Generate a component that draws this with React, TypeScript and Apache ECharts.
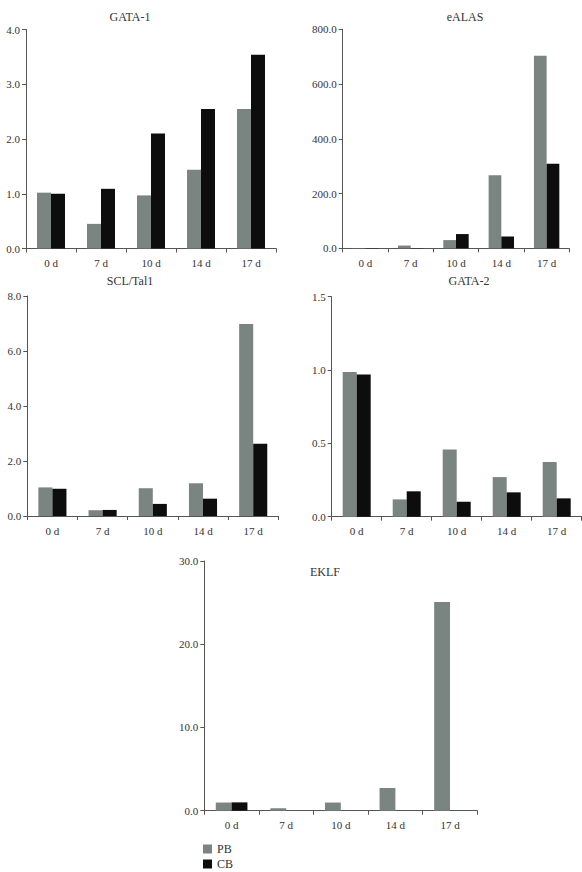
import React, { useEffect, useRef } from "react";
import * as echarts from "echarts";

const categories = ["0 d", "7 d", "10 d", "14 d", "17 d"];
const seriesNames = ["PB", "CB"];

const gata1PB = [1.02, 0.45, 0.97, 1.44, 2.55];
const gata1CB = [1.0, 1.09, 2.1, 2.55, 3.54];
const ealasPB = [1, 10, 30, 267, 703];
const ealasCB = [1, 1, 52, 43, 309];
const sclPB = [1.04, 0.21, 1.01, 1.19, 6.98];
const sclCB = [0.99, 0.22, 0.44, 0.63, 2.63];
const gata2PB = [0.986, 0.118, 0.459, 0.27, 0.373];
const gata2CB = [0.97, 0.173, 0.102, 0.166, 0.125];
const eklfPB = [0.98, 0.28, 0.98, 2.72, 25.07];
const eklfCB = [1.0, 0, 0, 0, 0];

const panelTitles = ["GATA-1", "eALAS", "SCL/Tal1", "GATA-2", "EKLF"];
const yMax = [4, 800, 8, 1.5, 30];
const yInterval = [1, 200, 2, 0.5, 10];
const pbData = [gata1PB, ealasPB, sclPB, gata2PB, eklfPB];
const cbData = [gata1CB, ealasCB, sclCB, gata2CB, eklfCB];

const FONT = "'Liberation Serif', 'DejaVu Serif', serif";
const PB_COLOR = "#7a8581";
const CB_COLOR = "#0d0d0d";

export default function App() {
  const ref = useRef<HTMLDivElement>(null);
  useEffect(() => {
    if (!ref.current) return;
    const chart = echarts.init(ref.current, undefined, { renderer: "svg" });
    const grids = [
      { left: 26, top: 29.5, width: 250, height: 219 },
      { left: 342.7, top: 29.3, width: 226.6, height: 219 },
      { left: 27.3, top: 296, width: 251, height: 220 },
      { left: 331.7, top: 296.7, width: 250, height: 220 },
      { left: 204.3, top: 561, width: 273, height: 249.7 },
    ];
    const titlePos = [
      [130, 17],
      [465, 17],
      [130, 281],
      [469, 281],
      [325, 572],
    ];
    const xAxes = grids.map((_, i) => ({
      type: "category",
      gridIndex: i,
      data: categories,
      boundaryGap: true,
      axisLine: { lineStyle: { color: "#555", width: 1 } },
      axisTick: { show: true, length: 4, lineStyle: { color: "#555" } },
      axisLabel: { fontFamily: FONT, fontSize: 11, color: "#333", margin: 9 },
      splitLine: { show: false },
    }));
    const yAxes = grids.map((_, i) => ({
      type: "value",
      gridIndex: i,
      min: 0,
      max: yMax[i],
      interval: yInterval[i],
      axisLine: { show: true, lineStyle: { color: "#555", width: 1 } },
      axisTick: { show: true, length: 4, lineStyle: { color: "#555" } },
      axisLabel: {
        fontFamily: FONT,
        fontSize: 11,
        color: "#333",
        margin: 6,
        formatter: (v: number) => v.toFixed(1),
      },
      splitLine: { show: false },
    }));
    const series: any[] = [];
    grids.forEach((_, i) => {
      const gap = i === 4 ? "42%" : "44%";
      series.push({
        name: seriesNames[0],
        type: "bar",
        xAxisIndex: i,
        yAxisIndex: i,
        data: pbData[i],
        itemStyle: { color: PB_COLOR },
        barGap: "0%",
        barCategoryGap: gap,
      });
      series.push({
        name: seriesNames[1],
        type: "bar",
        xAxisIndex: i,
        yAxisIndex: i,
        data: cbData[i],
        itemStyle: { color: CB_COLOR },
        barGap: "0%",
        barCategoryGap: gap,
      });
    });
    const legendBase = {
      orient: "vertical",
      left: 203,
      padding: 0,
      itemWidth: 9,
      itemHeight: 9,
      icon: "rect",
      textStyle: { fontFamily: FONT, fontSize: 12, color: "#333" },
      selectedMode: false,
    };
    chart.setOption({
      animation: false,
      backgroundColor: "#ffffff",
      grid: grids.map((g) => ({ ...g, containLabel: false })),
      xAxis: xAxes,
      yAxis: yAxes,
      series,
      legend: [
        { ...legendBase, data: [seriesNames[0]], top: 843 },
        { ...legendBase, data: [seriesNames[1]], top: 858 },
      ],
      graphic: panelTitles.map((t, i) => ({
        type: "text",
        x: titlePos[i][0],
        y: titlePos[i][1],
        style: {
          text: t,
          font: `12px ${FONT}`,
          fill: "#333",
          textAlign: "center",
          textVerticalAlign: "middle",
        },
      })),
    });
    return () => chart.dispose();
  }, []);
  return (
    <div
      ref={ref}
      style={{ position: "fixed", left: 0, top: 0, width: 582, height: 872 }}
    />
  );
}
